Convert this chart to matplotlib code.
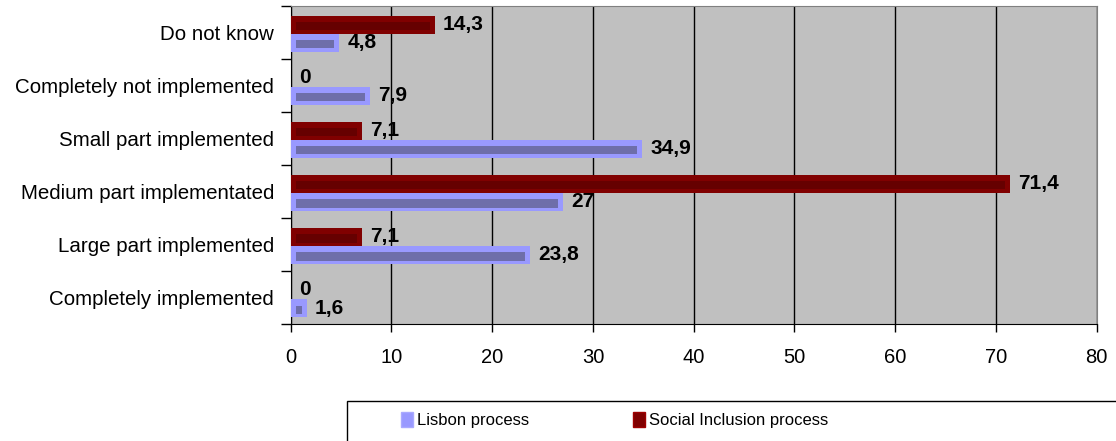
import matplotlib.pyplot as plt
from matplotlib.patches import Patch, Rectangle

categories = ["Do not know", "Completely not implemented", "Small part implemented",
              "Medium part implementated", "Large part implemented", "Completely implemented"]
lisbon = [4.8, 7.9, 34.9, 27, 23.8, 1.6]
social = [14.3, 0, 7.1, 71.4, 7.1, 0]
xticks = [0, 10, 20, 30, 40, 50, 60, 70, 80]

plt.rcParams['font.family'] = ['Liberation Sans', 'DejaVu Sans']

fig = plt.figure(figsize=(11.16, 4.41), dpi=100)
ax = fig.add_axes([0.2605, 0.2642, 0.7222, 0.7222])
ax.set_facecolor('#c0c0c0')

ypos = list(range(len(categories)))
h = 0.34
red_y = [y - h / 2 + 0.02 for y in ypos]
blue_y = [y + h / 2 + 0.02 for y in ypos]

ax.barh(red_y, social, height=h, color='#800000', zorder=3)
ax.barh(blue_y, lisbon, height=h, color='#9999ff', zorder=3)

# darker inner stripe for the shaded look
inset = 0.5
ax.barh([y + 0.03 for y in red_y], [max(v - 2 * inset, 0) for v in social], left=inset,
        height=h * 0.45, color='#660000', zorder=4)
ax.barh([y + 0.03 for y in blue_y], [max(v - 2 * inset, 0) for v in lisbon], left=inset,
        height=h * 0.45, color='#6e6eaa', zorder=4)

for y, v in zip(red_y, social):
    ax.text(v + 0.8, y, f"{v:g}".replace('.', ','), va='center', ha='left',
            fontsize=15, fontweight='bold', zorder=5)
for y, v in zip(blue_y, lisbon):
    ax.text(v + 0.8, y, f"{v:g}".replace('.', ','), va='center', ha='left',
            fontsize=15, fontweight='bold', zorder=5)

ax.set_xlim(0, 80)
ax.set_ylim(len(categories) - 0.5, -0.5)
ax.set_xticks(xticks)
ax.set_xticklabels([str(t) for t in xticks], fontsize=14.5)
ax.set_yticks([y - 0.5 for y in ypos] + [len(categories) - 0.5])
ax.set_yticklabels([])
ax.set_yticks(ypos, minor=True)
ax.set_yticklabels(categories, minor=True, fontsize=14.8)
ax.tick_params(axis='y', which='minor', length=0, pad=12)
ax.tick_params(axis='y', which='major', length=7, width=1, direction='out')
ax.tick_params(axis='x', length=6, width=1, pad=11)

ax.xaxis.grid(True, color='black', linewidth=1, zorder=1)
ax.set_axisbelow(True)
for side in ['left', 'bottom']:
    ax.spines[side].set_color('black')
for side in ['top', 'right']:
    ax.spines[side].set_color('#808080')

# legend box running off the right and bottom edges
fig.patches.append(Rectangle((347 / 1116, -0.1), 1, 40 / 441 + 0.1, transform=fig.transFigure,
                             fill=False, edgecolor='black', linewidth=1))
handles = [Patch(facecolor='#9999ff', edgecolor='#aaaaff', label='Lisbon process'),
           Patch(facecolor='#800000', edgecolor='#a00000', label='Social Inclusion process')]
fig.legend(handles=handles, loc='center left', bbox_to_anchor=(386 / 1116, 21 / 441),
           ncol=2, frameon=False, handlelength=0.72, handleheight=1.0,
           handletextpad=0.25, columnspacing=6.2, fontsize=12)

fig.savefig('out.png', dpi=100)
